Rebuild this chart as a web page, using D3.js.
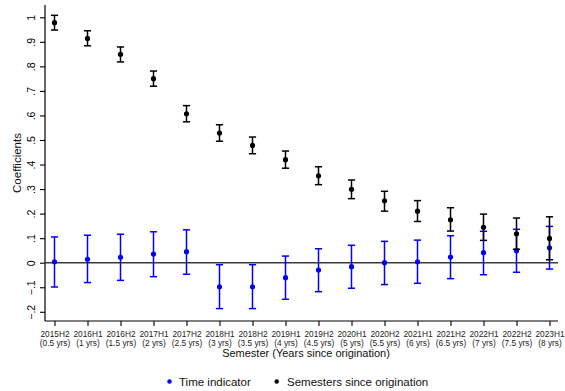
<!DOCTYPE html>
<html>
<head>
<meta charset="utf-8">
<script src="https://cdn.jsdelivr.net/npm/d3@7"></script>
<style>
  html, body { margin: 0; padding: 0; background: #fff; }
  svg { display: block; font-family: "Liberation Sans", Arial, sans-serif; }
</style>
</head>
<body>
<svg id="chart" width="565" height="391"></svg>
<script>
const semesters = ["2015H2","2016H1","2016H2","2017H1","2017H2","2018H1","2018H2","2019H1","2019H2","2020H1","2020H2","2021H1","2021H2","2022H1","2022H2","2023H1"];
const yearsLabels = ["(0.5 yrs)","(1 yrs)","(1.5 yrs)","(2 yrs)","(2.5 yrs)","(3 yrs)","(3.5 yrs)","(4 yrs)","(4.5 yrs)","(5 yrs)","(5.5 yrs)","(6 yrs)","(6.5 yrs)","(7 yrs)","(7.5 yrs)","(8 yrs)"];

// Time indicator (blue)
const timeCoef = [0.004, 0.014, 0.022, 0.035, 0.045, -0.098, -0.098, -0.061, -0.030, -0.016, 0.000, 0.004, 0.023, 0.041, 0.049, 0.061];
const timeLo   = [-0.099, -0.081, -0.072, -0.057, -0.047, -0.187, -0.187, -0.149, -0.118, -0.104, -0.089, -0.084, -0.065, -0.049, -0.039, -0.026];
const timeHi   = [0.105, 0.112, 0.116, 0.126, 0.134, -0.008, -0.008, 0.027, 0.057, 0.071, 0.087, 0.092, 0.110, 0.128, 0.136, 0.148];

// Semesters since origination (black)
const semCoef = [0.978, 0.914, 0.849, 0.750, 0.607, 0.528, 0.478, 0.420, 0.354, 0.299, 0.252, 0.210, 0.175, 0.144, 0.118, 0.099];
const semLo   = [0.948, 0.884, 0.818, 0.719, 0.574, 0.495, 0.444, 0.385, 0.318, 0.261, 0.210, 0.168, 0.129, 0.091, 0.055, 0.012];
const semHi   = [1.008, 0.945, 0.879, 0.781, 0.640, 0.562, 0.512, 0.455, 0.391, 0.337, 0.291, 0.253, 0.224, 0.198, 0.182, 0.187];

const yTicks = [-0.2, -0.1, 0, 0.1, 0.2, 0.3, 0.4, 0.5, 0.6, 0.7, 0.8, 0.9, 1];
const legendLabels = ["Time indicator", "Semesters since origination"];
const seriesColors = ["#0000ff", "#000000"];

const svg = d3.select("#chart");
const plot = { left: 45, right: 558, top: 5, bottom: 321 };

const x = d3.scalePoint().domain(semesters).range([54.5, 549.5]);
const y = d3.scaleLinear().domain([-0.2375, 1.05]).range([plot.bottom, plot.top]);

const fmt = v => {
  if (Math.abs(v) < 1e-9) return "0";
  if (Math.abs(v - 1) < 1e-9) return "1";
  return d3.format(".1f")(v).replace("0.", ".");
};

// Y axis
const yAxis = svg.append("g")
  .attr("transform", `translate(${plot.left},0)`)
  .call(d3.axisLeft(y).tickValues(yTicks).tickSize(5).tickPadding(3).tickFormat(fmt));
yAxis.select(".domain").attr("d", `M0,${plot.top}V${plot.bottom}`).attr("stroke", "#000").attr("stroke-width", 1.2);
yAxis.selectAll(".tick line").attr("stroke", "#000").attr("stroke-width", 1.1);
yAxis.selectAll(".tick text")
  .attr("x", null).attr("dy", null)
  .attr("text-anchor", "middle")
  .attr("dominant-baseline", "central")
  .attr("transform", "translate(-14,0) rotate(-90)")
  .attr("font-size", "10.5px")
  .attr("fill", "#000");

// X axis
const xAxis = svg.append("g")
  .attr("transform", `translate(0,${plot.bottom})`)
  .call(d3.axisBottom(x).tickSize(5).tickFormat(""));
xAxis.select(".domain").attr("d", `M${plot.left},0H${plot.right}`).attr("stroke", "#000").attr("stroke-width", 1.2);
xAxis.selectAll(".tick line").attr("stroke", "#000").attr("stroke-width", 1.1);
xAxis.selectAll(".tick").each(function(d, i) {
  const t = d3.select(this).append("text")
    .attr("text-anchor", "middle")
    .attr("font-size", "8.3px")
    .attr("fill", "#222");
  t.append("tspan").attr("x", 0).attr("y", 15.5).text(semesters[i]);
  t.append("tspan").attr("x", 0).attr("y", 25).text(yearsLabels[i]);
});

// Zero line
svg.append("line")
  .attr("x1", plot.left).attr("x2", plot.right)
  .attr("y1", y(0)).attr("y2", y(0))
  .attr("stroke", "#3a3a3a").attr("stroke-width", 1.6);

// Axis titles
svg.append("text")
  .attr("x", 306).attr("y", 356.5)
  .attr("text-anchor", "middle")
  .attr("font-size", "11px")
  .attr("fill", "#111")
  .text("Semester (Years since origination)");

svg.append("text")
  .attr("transform", `translate(17,163) rotate(-90)`)
  .attr("text-anchor", "middle")
  .attr("dominant-baseline", "central")
  .attr("font-size", "11.5px")
  .attr("fill", "#111")
  .text("Coefficients");

// Series drawing
function drawSeries(coef, lo, hi, color) {
  const g = svg.append("g");
  const data = semesters.map((s, i) => ({ s, c: coef[i], lo: lo[i], hi: hi[i] }));
  const capW = 3.6;
  g.selectAll(".v").data(data).join("line")
    .attr("x1", d => x(d.s)).attr("x2", d => x(d.s))
    .attr("y1", d => y(d.lo)).attr("y2", d => y(d.hi))
    .attr("stroke", color).attr("stroke-width", 1.5);
  g.selectAll(".ct").data(data).join("line")
    .attr("x1", d => x(d.s) - capW).attr("x2", d => x(d.s) + capW)
    .attr("y1", d => y(d.hi)).attr("y2", d => y(d.hi))
    .attr("stroke", color).attr("stroke-width", 1.5);
  g.selectAll(".cb").data(data).join("line")
    .attr("x1", d => x(d.s) - capW).attr("x2", d => x(d.s) + capW)
    .attr("y1", d => y(d.lo)).attr("y2", d => y(d.lo))
    .attr("stroke", color).attr("stroke-width", 1.5);
  g.selectAll("circle").data(data).join("circle")
    .attr("cx", d => x(d.s)).attr("cy", d => y(d.c))
    .attr("r", 2.6).attr("fill", color);
}

drawSeries(timeCoef, timeLo, timeHi, seriesColors[0]);
drawSeries(semCoef, semLo, semHi, seriesColors[1]);

// Legend
const legendPos = [{ dx: 169.5, tx: 179 }, { dx: 276.7, tx: 287 }];
const lg = svg.append("g");
legendLabels.forEach((lab, i) => {
  lg.append("circle").attr("cx", legendPos[i].dx).attr("cy", 381.5).attr("r", 2.2).attr("fill", seriesColors[i]);
  lg.append("text").attr("x", legendPos[i].tx).attr("y", 381.5)
    .attr("dominant-baseline", "central")
    .attr("font-size", "11.5px").attr("fill", "#111")
    .text(lab);
});
</script>
</body>
</html>
